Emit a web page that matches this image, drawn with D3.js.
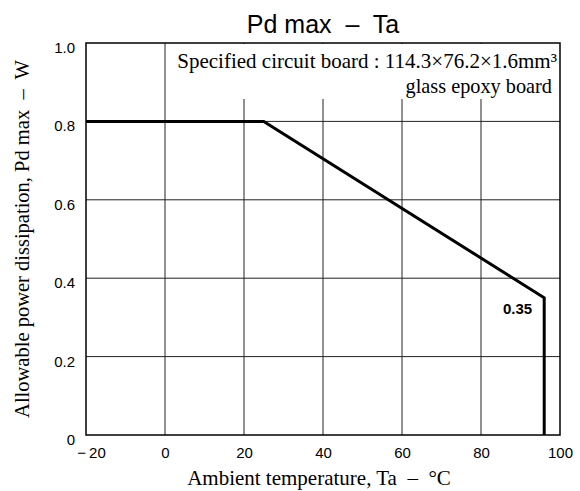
<!DOCTYPE html>
<html>
<head>
<meta charset="utf-8">
<script src="https://cdn.jsdelivr.net/npm/d3@7"></script>
<style>
  body { margin: 0; background: #fff; }
  svg { display: block; }
  .sans { font-family: "Liberation Sans", Arial, sans-serif; }
  .serif { font-family: "Liberation Serif", "Times New Roman", serif; }
</style>
</head>
<body>
<svg id="chart" width="580" height="491"></svg>
<script>
// tick values
const xTicks = [-20, 0, 20, 40, 60, 80, 100];
const yTicks = [0, 0.2, 0.4, 0.6, 0.8, 1.0];
const xTickLabels = ['\u2212\u200920', '0', '20', '40', '60', '80', '100'];
const yTickLabels = ['0', '0.2', '0.4', '0.6', '0.8', '1.0'];

// derating curve
const curveTa = [-20, 25, 96, 96];
const curvePd = [0.8, 0.8, 0.35, 0];
const endLabel = '0.35';

const plotL = 86, plotR = 560, plotT = 43, plotB = 435;

const svg = d3.select('#chart');

const x = d3.scaleLinear().domain([-20, 100]).range([plotL, plotR]);
const y = d3.scaleLinear().domain([0, 1.0]).range([plotB, plotT]);

// grid
const grid = svg.append('g').attr('stroke', '#222').attr('stroke-width', 1);
grid.selectAll('line.v')
  .data(xTicks.slice(1, -1))
  .enter().append('line')
  .attr('x1', d => x(d)).attr('x2', d => x(d))
  .attr('y1', y(0)).attr('y2', y(1));
grid.selectAll('line.h')
  .data(yTicks.slice(1, -1))
  .enter().append('line')
  .attr('x1', x(-20)).attr('x2', x(100))
  .attr('y1', d => y(d)).attr('y2', d => y(d));

// white box behind the board note
svg.append('rect')
  .attr('x', x(0) + 1).attr('y', plotT + 1)
  .attr('width', x(100) - x(0) - 2).attr('height', 99 - plotT - 1)
  .attr('fill', '#fff');

// frame
svg.append('rect')
  .attr('x', plotL).attr('y', plotT)
  .attr('width', plotR - plotL).attr('height', plotB - plotT)
  .attr('fill', 'none').attr('stroke', '#000').attr('stroke-width', 1.5);

// curve
const pts = curveTa.map((t, i) => [t, curvePd[i]]);
svg.append('path')
  .datum(pts)
  .attr('fill', 'none')
  .attr('stroke', '#000')
  .attr('stroke-width', 3)
  .attr('stroke-linejoin', 'miter')
  .attr('d', d3.line().x(d => x(d[0])).y(d => y(d[1])));

svg.append('text')
  .attr('class', 'sans')
  .attr('x', x(curveTa[2]) - 12).attr('y', y(curvePd[2]) + 16)
  .attr('text-anchor', 'end')
  .attr('font-size', 15).attr('font-weight', 'bold')
  .text(endLabel);

// axes (labels only)
const xAxis = svg.append('g')
  .attr('transform', `translate(0,${plotB})`)
  .call(d3.axisBottom(x).tickValues(xTicks).tickSize(0).tickPadding(0)
    .tickFormat((d, i) => xTickLabels[i]));
xAxis.select('.domain').remove();
xAxis.selectAll('text')
  .attr('class', 'sans')
  .attr('font-size', 15).attr('fill', '#000')
  .attr('dy', null).attr('y', 23)
  .attr('dx', d => d === -20 ? 5 : 0);

const yAxis = svg.append('g')
  .attr('transform', `translate(${plotL},0)`)
  .call(d3.axisLeft(y).tickValues(yTicks).tickSize(0).tickPadding(0)
    .tickFormat((d, i) => yTickLabels[i]));
yAxis.select('.domain').remove();
yAxis.selectAll('text')
  .attr('class', 'sans')
  .attr('font-size', 15).attr('fill', '#000')
  .attr('x', -11).attr('dy', 9.5);

// titles
svg.append('text')
  .attr('class', 'sans')
  .attr('x', 323).attr('y', 33)
  .attr('text-anchor', 'middle')
  .attr('font-size', 25)
  .attr('xml:space', 'preserve')
  .text('Pd max  \u2013  Ta');

svg.append('text')
  .attr('class', 'serif')
  .attr('x', 557).attr('y', 68)
  .attr('text-anchor', 'end')
  .attr('font-size', 21)
  .text('Specified circuit board : 114.3\u00d776.2\u00d71.6mm\u00b3');

svg.append('text')
  .attr('class', 'serif')
  .attr('x', 552).attr('y', 93)
  .attr('text-anchor', 'end')
  .attr('font-size', 20.3)
  .text('glass epoxy board');

svg.append('text')
  .attr('class', 'serif')
  .attr('x', 319).attr('y', 485)
  .attr('text-anchor', 'middle')
  .attr('font-size', 21)
  .attr('xml:space', 'preserve')
  .text('Ambient temperature, Ta  \u2013  \u00b0C');

svg.append('text')
  .attr('class', 'serif')
  .attr('transform', `translate(29,${(plotT + plotB) / 2}) rotate(-90)`)
  .attr('text-anchor', 'middle')
  .attr('font-size', 20.5)
  .attr('xml:space', 'preserve')
  .text('Allowable power dissipation, Pd max  \u2013  W');
</script>
</body>
</html>
